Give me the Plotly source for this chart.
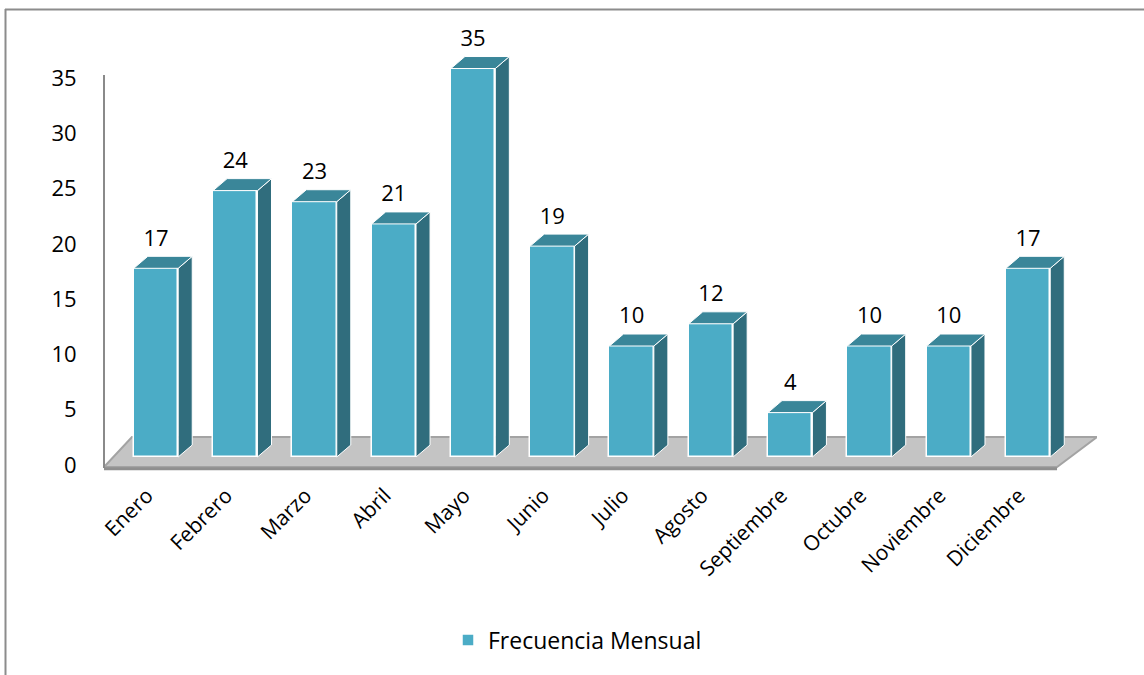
import plotly.graph_objects as go

# ---- data ----
months = ["Enero", "Febrero", "Marzo", "Abril", "Mayo", "Junio", "Julio",
          "Agosto", "Septiembre", "Octubre", "Noviembre", "Diciembre"]
values = [17, 24, 23, 21, 35, 19, 10, 12, 4, 10, 10, 17]
series_name = "Frecuencia Mensual"
y_ticks = [0, 5, 10, 15, 20, 25, 30, 35]

# ---- style / geometry ----
FRONT = "#4BACC6"
TOP = "#3A8699"
SIDE = "#306D7D"
FONT = "Open Sans"
FS = 22
BAR_W = 0.56        # bar width in category units
DX, DY = 0.177, 1.08  # 3-D depth offset (x in category units, y in value units)

W, H = 1144, 675
ml, mr, mt, mb = 104, 47, 30, 203
plot_w = W - ml - mr
plot_h = H - mt - mb
x_range = [-0.656, 11.87]
y_range = [-1.351, 38.47]
y2_range = [-0.633, 39.34]

xs = list(range(len(months)))

fig = go.Figure()

# front faces
fig.add_trace(go.Bar(
    x=xs, y=values, width=BAR_W, name=series_name,
    marker=dict(color=FRONT, line=dict(color="white", width=1.5)),
    showlegend=True,
))

# side and top faces
sx, sy = [], []
tx, ty = [], []
for i, v in zip(xs, values):
    r = i + BAR_W / 2
    l = i - BAR_W / 2
    sx += [r, r + DX, r + DX, r, r, None]
    sy += [0, DY, v + DY, v, 0, None]
    tx += [l, l + DX, r + DX, r, l, None]
    ty += [v, v + DY, v + DY, v, v, None]

fig.add_trace(go.Scatter(x=sx, y=sy, mode="lines", fill="toself",
                         fillcolor=SIDE, line=dict(color="white", width=1),
                         showlegend=False, hoverinfo="skip"))
fig.add_trace(go.Scatter(x=tx, y=ty, mode="lines", fill="toself",
                         fillcolor=TOP, line=dict(color="white", width=1),
                         showlegend=False, hoverinfo="skip"))

# data labels
fig.add_trace(go.Scatter(
    x=xs, y=[v + DY + 1.45 for v in values], mode="text",
    text=[str(v) for v in values], textposition="middle center",
    textfont=dict(family=FONT, size=FS, color="black"),
    showlegend=False, hoverinfo="skip", cliponaxis=False,
))

# invisible trace to hold the y tick labels axis
fig.add_trace(go.Scatter(x=[None], y=[None], yaxis="y2", showlegend=False))

# floor (decoration, derived from axis ranges)
fl_front_y = -0.9
fl_back_y = 1.8
fl_back_left = -0.303
fl_front_right = 11.366
floor_path = (f"M {x_range[0]},{fl_front_y} L {fl_back_left},{fl_back_y} "
              f"L {x_range[1]},{fl_back_y} L {fl_front_right},{fl_front_y} Z")
shapes = [
    dict(type="path", path=floor_path, xref="x", yref="y", layer="below",
         fillcolor="#C4C4C4", line=dict(color="#A3A3A3", width=2)),
    dict(type="line", xref="x", yref="y", layer="below",
         x0=x_range[0], x1=fl_front_right, y0=fl_front_y - 0.15, y1=fl_front_y - 0.15,
         line=dict(color="#8F8F8F", width=3)),
    # vertical value-axis line
    dict(type="line", xref="paper", yref="y", x0=0, x1=0, y0=-0.99, y1=34.41,
         line=dict(color="#8A8A8A", width=2)),
    # outer chart border (left and top visible)
    dict(type="line", xref="paper", yref="paper",
         x0=(5.5 - ml) / plot_w, x1=(5.5 - ml) / plot_w,
         y0=(H - mb - H) / plot_h - 0.01, y1=(H - mb - 9) / plot_h,
         line=dict(color="#8C8C8C", width=2)),
    dict(type="line", xref="paper", yref="paper",
         x0=(5 - ml) / plot_w, x1=(W - ml) / plot_w,
         y0=(H - mb - 9.5) / plot_h, y1=(H - mb - 9.5) / plot_h,
         line=dict(color="#8C8C8C", width=2)),
]

fig.update_layout(
    width=W, height=H,
    margin=dict(l=ml, r=mr, t=mt, b=mb, autoexpand=False),
    paper_bgcolor="white", plot_bgcolor="white",
    font=dict(family=FONT, size=FS, color="black"),
    shapes=shapes,
    bargap=0,
    xaxis=dict(range=x_range, tickmode="array", tickvals=xs, ticktext=months,
               tickangle=-45, showgrid=False, zeroline=False, showline=False,
               ticks="outside", ticklen=2, tickcolor="rgba(0,0,0,0)",
               ticklabelshift=-9,
               tickfont=dict(family=FONT, size=21, color="black")),
    yaxis=dict(range=y_range, showgrid=False, zeroline=False, showline=False,
               showticklabels=False, ticks=""),
    yaxis2=dict(range=y2_range, overlaying="y", side="left", anchor="x",
                tickmode="array", tickvals=y_ticks,
                showgrid=False, zeroline=False, showline=False,
                ticks="outside", ticklen=22, tickcolor="rgba(0,0,0,0)",
                tickfont=dict(family=FONT, size=FS, color="black")),
    legend=dict(orientation="h", xref="container", yref="container",
                x=(490 - 42) / W, xanchor="left", y=1 - 640 / H, yanchor="middle",
                font=dict(family=FONT, size=23, color="black"),
                bgcolor="rgba(0,0,0,0)"),
)

fig.write_html("out.html")
